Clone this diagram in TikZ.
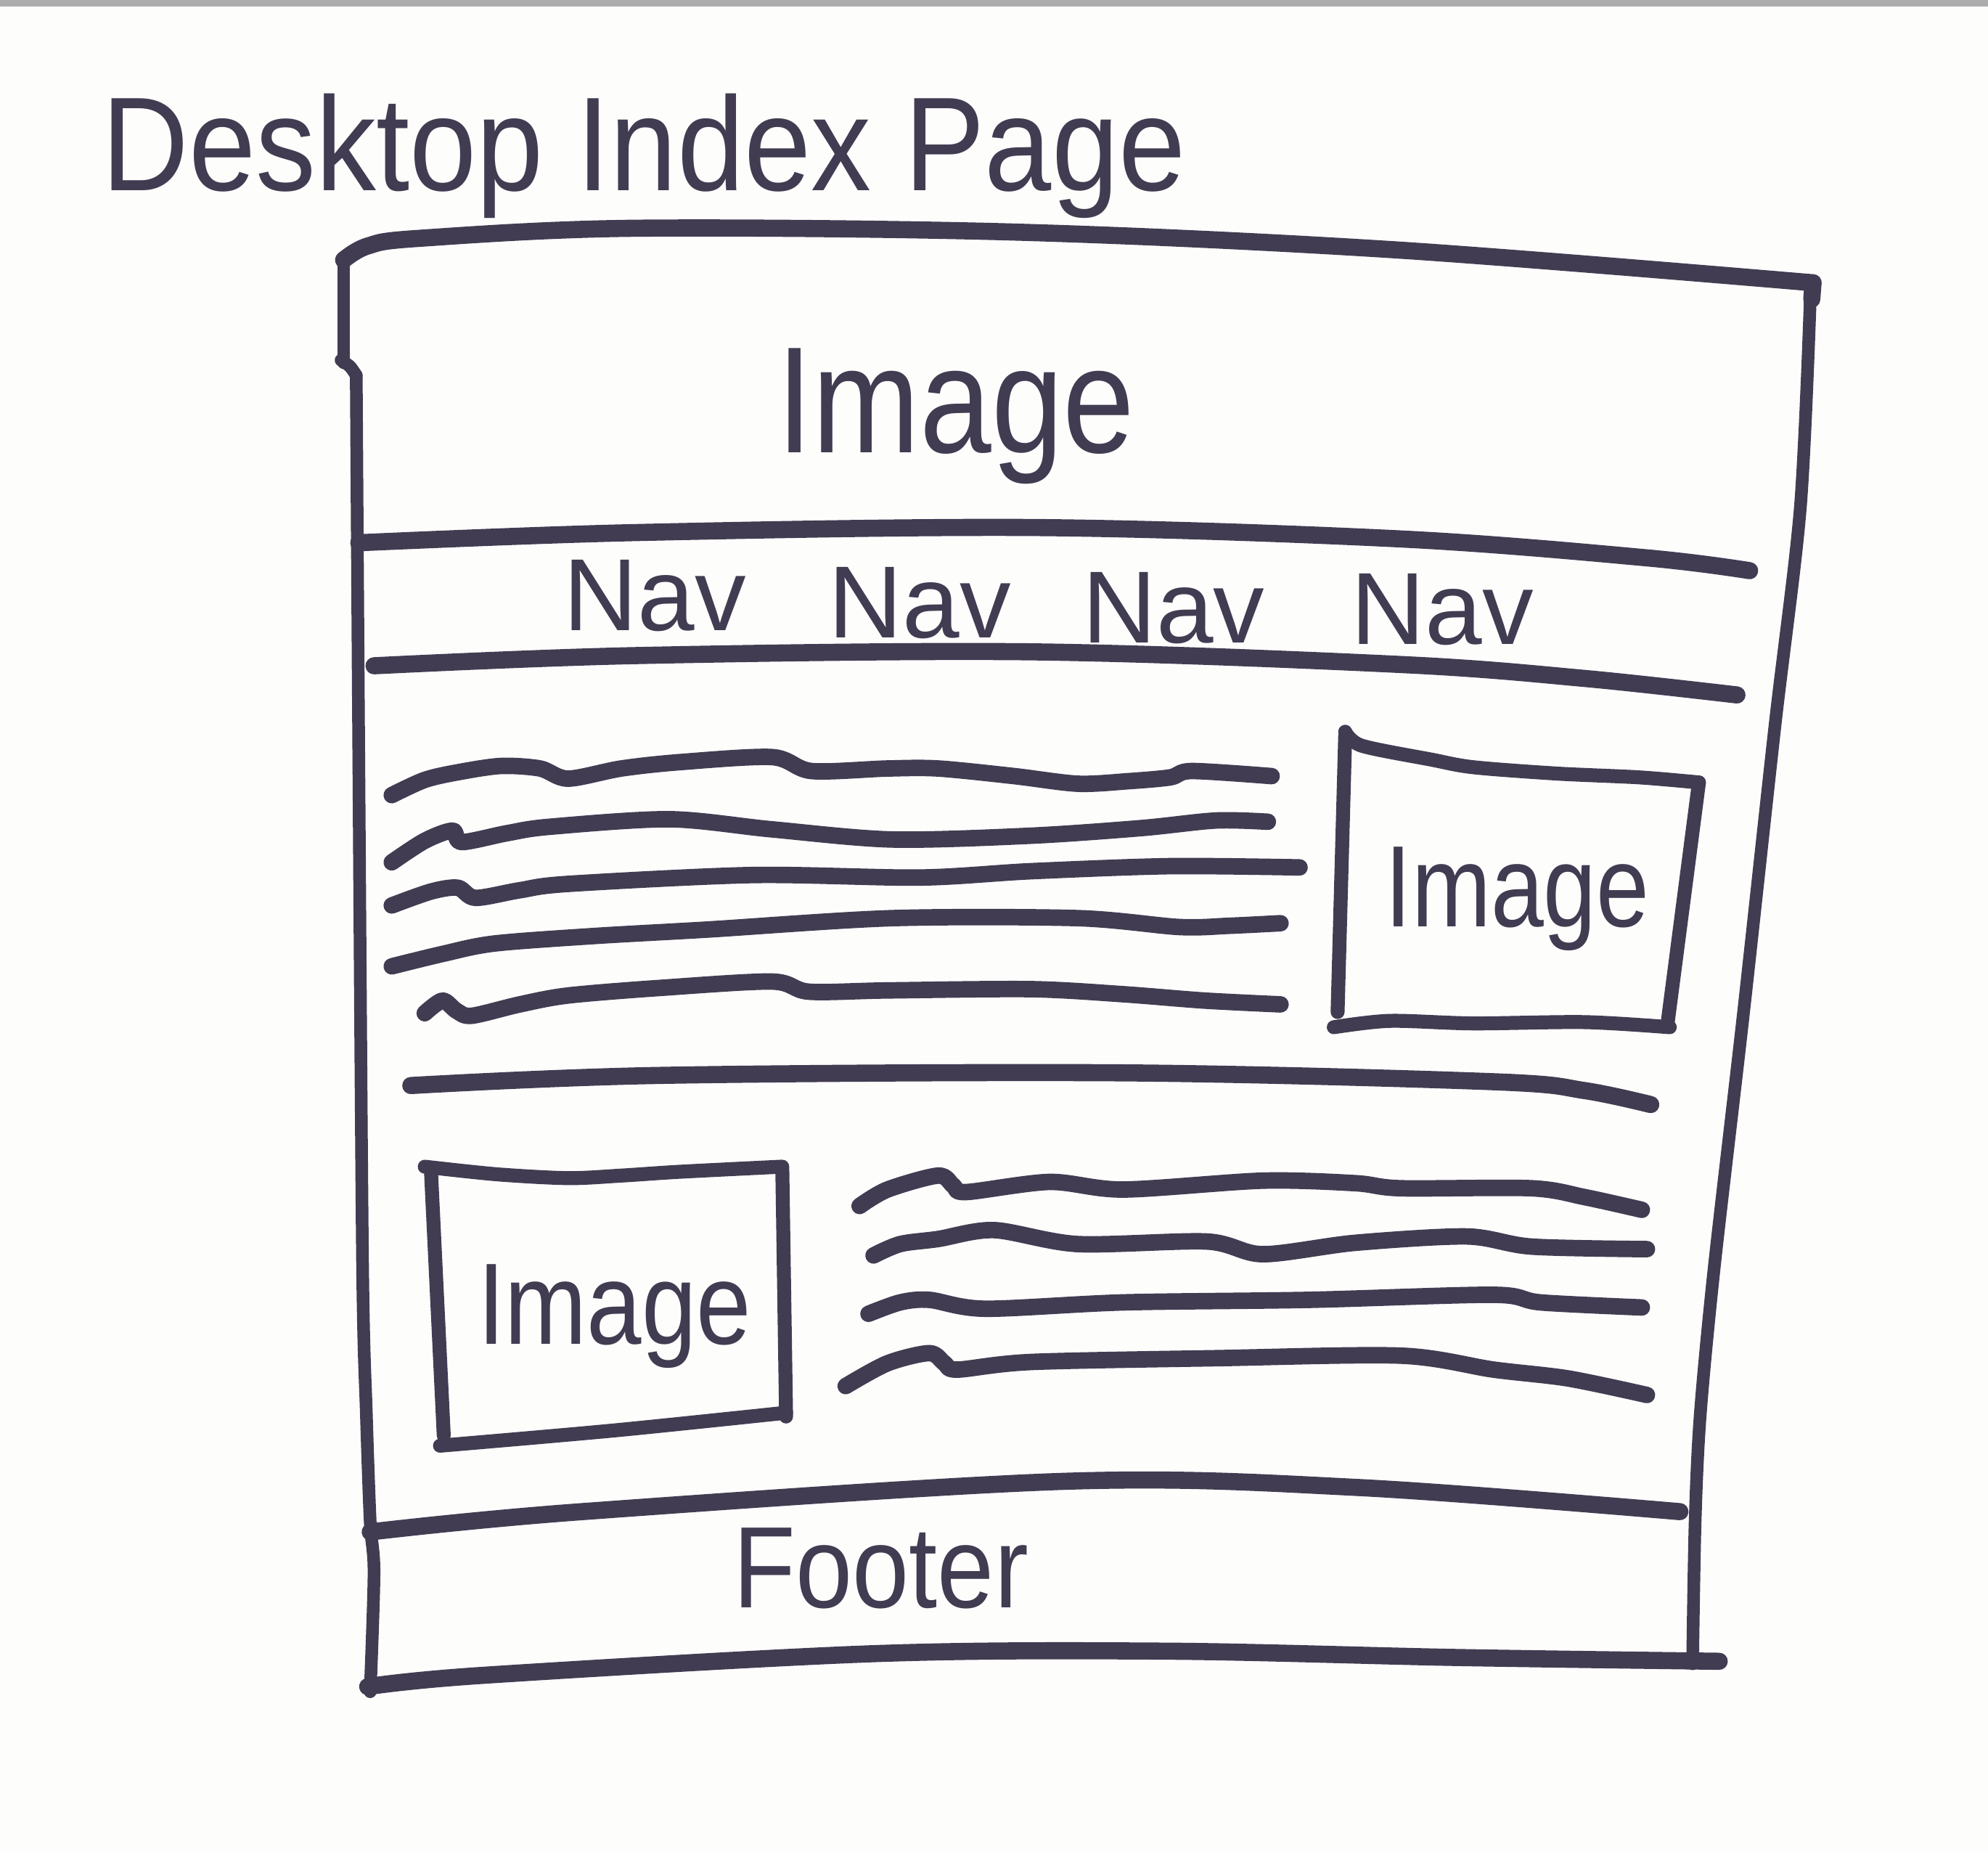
\documentclass[tikz,border=0pt]{standalone}
\usepackage{fontspec}
\setmainfont{Liberation Sans}
\definecolor{ink}{RGB}{66,60,82}
\definecolor{paper}{RGB}{253,253,252}
\begin{document}
\begin{tikzpicture}[x=0.1mm,y=-0.1mm,
  pen/.style={draw=ink,line width=1.35mm,line cap=round,line join=round},
  wave/.style={draw=ink,line width=1.3mm,line cap=round,line join=round},
  boxpen/.style={draw=ink,line width=1.1mm,line cap=round,line join=round},
  side/.style={draw=ink,line width=1.0mm,line cap=round,line join=round},
  hand/.style={text=ink,inner sep=0pt,anchor=base west},
]
\fill[paper] (0,0) rectangle (1568,1460);
\useasboundingbox (0,0) rectangle (1568,1460);
% scanner edge at the top
\fill[gray!65] (0,0) rectangle (1568,5);

% title
\node[hand] (title) at (80,150) {\fontsize{30}{30}\selectfont\scalebox{0.9}[1]{Desktop Index Page}};

% outer page frame
\draw[pen] plot[smooth,tension=0.55] coordinates {(271,205) (290,194) (330,188) (500,180) (800,183) (1100,197) (1430,223)};
\draw[pen] (1430,223) -- (1429,236);
\draw[side] plot[smooth,tension=0.5] coordinates {(1428,230) (1420,400) (1400,572) (1375,800) (1352,1000) (1341,1116) (1337,1200) (1335,1312)};
\draw[side] (271,205) -- (271,286);
\draw[side] plot[smooth,tension=0.5] coordinates {(269,284) (276,289) (281,296)};
\draw[side] plot[smooth,tension=0.5] coordinates {(281,296) (283,600) (286,1000) (289,1116) (292,1200) (295,1240) (292,1334)};
\draw[pen] plot[smooth,tension=0.55] coordinates {(290,1330) (382,1321) (689,1304) (919,1302) (1149,1307) (1356,1310)};

% header image area
\node[hand] (imgHead) at (612,357) {\fontsize{34}{34}\selectfont\scalebox{0.85}[1]{Image}};
\draw[pen] plot[smooth,tension=0.55] coordinates {(283,428) (500,420) (817,416) (1105,425) (1300,440) (1380,450)};

% navigation bar
\node[hand] (nav1) at (444,497) {\fontsize{23}{23}\selectfont Nav};
\node[hand] (nav2) at (653,503) {\fontsize{23}{23}\selectfont Nav};
\node[hand] (nav3) at (853,507) {\fontsize{23}{23}\selectfont Nav};
\node[hand] (nav4) at (1065,508) {\fontsize{23}{23}\selectfont Nav};
\draw[pen] plot[smooth,tension=0.55] coordinates {(295,525) (500,517) (813,514) (1105,524) (1250,535) (1370,548)};

% first content block: text lines
\draw[wave] plot[smooth,tension=0.5] coordinates {(309,627) (335,615) (361,609) (395,604) (426,606) (448,614) (490,606) (536,601) (609,597) (640,608) (700,606) (740,606) (800,612) (850,618) (890,616) (923,613) (940,608) (1003,612)};
\draw[wave] plot[smooth,tension=0.5] coordinates {(309,680) (335,663) (357,655) (364,664) (400,657) (433,652) (528,646) (609,654) (704,662) (813,659) (900,653) (959,647) (1000,648)};
\draw[wave] plot[smooth,tension=0.5] coordinates {(309,714) (340,703) (361,700) (375,708) (410,702) (448,697) (594,690) (725,692) (813,687) (923,683) (1025,684)};
\draw[wave] plot[smooth,tension=0.5] coordinates {(309,762) (350,752) (390,744) (470,738) (558,733) (704,724) (850,724) (930,731) (970,730) (1010,728)};
\draw[wave] plot[smooth,tension=0.5] coordinates {(335,799) (349,789) (360,797) (372,801) (410,792) (448,785) (521,779) (609,774) (638,782) (700,781) (813,780) (886,784) (950,789) (1010,792)};

% first content block: picture box
\draw[boxpen] plot[smooth,tension=0.5] coordinates {(1061,577) (1074,588) (1129,599) (1162,605) (1228,610) (1293,613) (1340,617)};
\draw[boxpen] (1340,617) -- (1315,809);
\draw[boxpen] (1061,580) -- (1055,798);
\draw[boxpen] plot[smooth,tension=0.5] coordinates {(1052,810) (1096,805) (1162,807) (1250,806) (1317,810)};
\node[hand] (imgRight) at (1092,731) {\fontsize{26}{26}\selectfont\scalebox{0.82}[1]{Image}};

% separator between blocks
\draw[pen] plot[smooth,tension=0.55] coordinates {(324,856) (521,848) (886,846) (1178,853) (1250,860) (1302,871)};

% second content block: picture box
\draw[boxpen] plot[smooth,tension=0.5] coordinates {(335,920) (392,926) (448,929) (490,927) (536,924) (616,920)};
\draw[boxpen] (617,920) -- (620,1117);
\draw[boxpen] (340,925) -- (350,1132);
\draw[boxpen] plot[smooth,tension=0.5] coordinates {(347,1140) (484,1128) (620,1114)};
\node[hand] (imgLeft) at (376,1060) {\fontsize{26}{26}\selectfont\scalebox{0.85}[1]{Image}};

% second content block: text lines
\draw[wave] plot[smooth,tension=0.5] coordinates {(678,951) (700,938) (740,927) (752,935) (762,940) (828,932) (886,938) (996,931) (1069,933) (1105,937) (1208,937) (1250,944) (1295,954)};
\draw[wave] plot[smooth,tension=0.5] coordinates {(689,990) (710,981) (740,977) (784,970) (850,981) (952,979) (996,989) (1069,980) (1157,975) (1208,983) (1299,985)};
\draw[wave] plot[smooth,tension=0.5] coordinates {(685,1036) (710,1027) (733,1025) (777,1032) (886,1027) (1032,1025) (1178,1021) (1215,1027) (1295,1031)};
\draw[wave] plot[smooth,tension=0.5] coordinates {(667,1093) (700,1075) (733,1067) (745,1075) (755,1080) (813,1074) (959,1071) (1105,1069) (1178,1080) (1237,1087) (1299,1100)};

% footer
\draw[pen] plot[smooth,tension=0.55] coordinates {(292,1208) (459,1192) (842,1168) (1072,1173) (1325,1192)};
\node[hand] (footer) at (578,1268) {\fontsize{26}{26}\selectfont\scalebox{0.88}[1]{Footer}};
\end{tikzpicture}
\end{document}
